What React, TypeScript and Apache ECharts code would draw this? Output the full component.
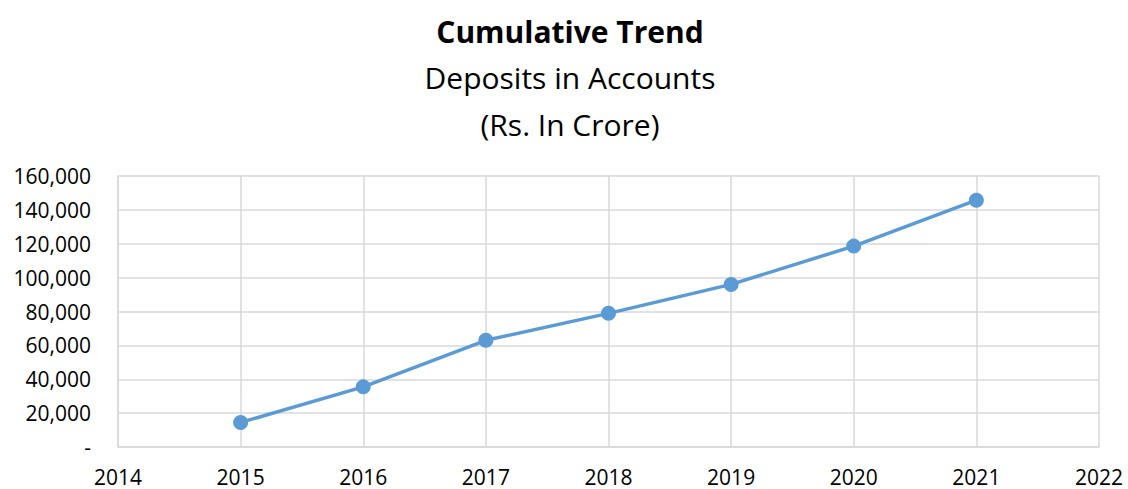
import React, { useEffect, useRef } from "react";
import * as echarts from "echarts";

const years = [2015, 2016, 2017, 2018, 2019, 2020, 2021];
const deposits = [14500, 35500, 63000, 78900, 96000, 118600, 145700];
const titleLines = ["Cumulative Trend", "Deposits in Accounts", "(Rs. In Crore)"];

const FONT = "'Open Sans', sans-serif";

export default function App() {
  const ref = useRef<HTMLDivElement>(null);
  useEffect(() => {
    document.body.style.margin = "0";
    const chart = echarts.init(ref.current!, undefined, { renderer: "svg" });
    chart.setOption({
      animation: false,
      backgroundColor: "#ffffff",
      graphic: [
        { type: "text", x: 570, y: 31, style: { text: titleLines[0], font: `bold 30px ${FONT}`, fill: "#000", textAlign: "center", textVerticalAlign: "middle" } },
        { type: "text", x: 570, y: 77, style: { text: titleLines[1], font: `30px ${FONT}`, fill: "#000", textAlign: "center", textVerticalAlign: "middle" } },
        { type: "text", x: 570, y: 124, style: { text: titleLines[2], font: `30px ${FONT}`, fill: "#000", textAlign: "center", textVerticalAlign: "middle" } },
      ],
      grid: { left: 118, right: 29, top: 176, bottom: 42, containLabel: false, show: false },
      xAxis: {
        type: "value",
        min: 2014,
        max: 2022,
        interval: 1,
        axisLine: { show: true, lineStyle: { color: "#d9d9d9", width: 1.5 } },
        axisTick: { show: false },
        splitLine: { show: true, lineStyle: { color: "#d9d9d9", width: 1.5 } },
        axisLabel: { color: "#000", fontFamily: FONT, fontSize: 21, margin: 19, formatter: (v: number) => String(v) },
      },
      yAxis: {
        type: "value",
        min: 0,
        max: 160000,
        interval: 20000,
        axisLine: { show: true, lineStyle: { color: "#d9d9d9", width: 1.5 } },
        axisTick: { show: false },
        splitLine: { show: true, lineStyle: { color: "#d9d9d9", width: 1.5 } },
        axisLabel: {
          color: "#000", fontFamily: FONT, fontSize: 21, margin: 27,
          formatter: (v: number) => (v === 0 ? "-" : v.toLocaleString("en-US")),
        },
      },
      series: [
        {
          type: "line",
          data: years.map((y, i) => [y, deposits[i]]),
          symbol: "circle",
          symbolSize: 15,
          lineStyle: { color: "#5b9bd5", width: 3.5 },
          itemStyle: { color: "#5b9bd5" },
        },
      ],
    });
    return () => chart.dispose();
  }, []);
  return <div ref={ref} style={{ width: 1128, height: 489 }} />;
}
